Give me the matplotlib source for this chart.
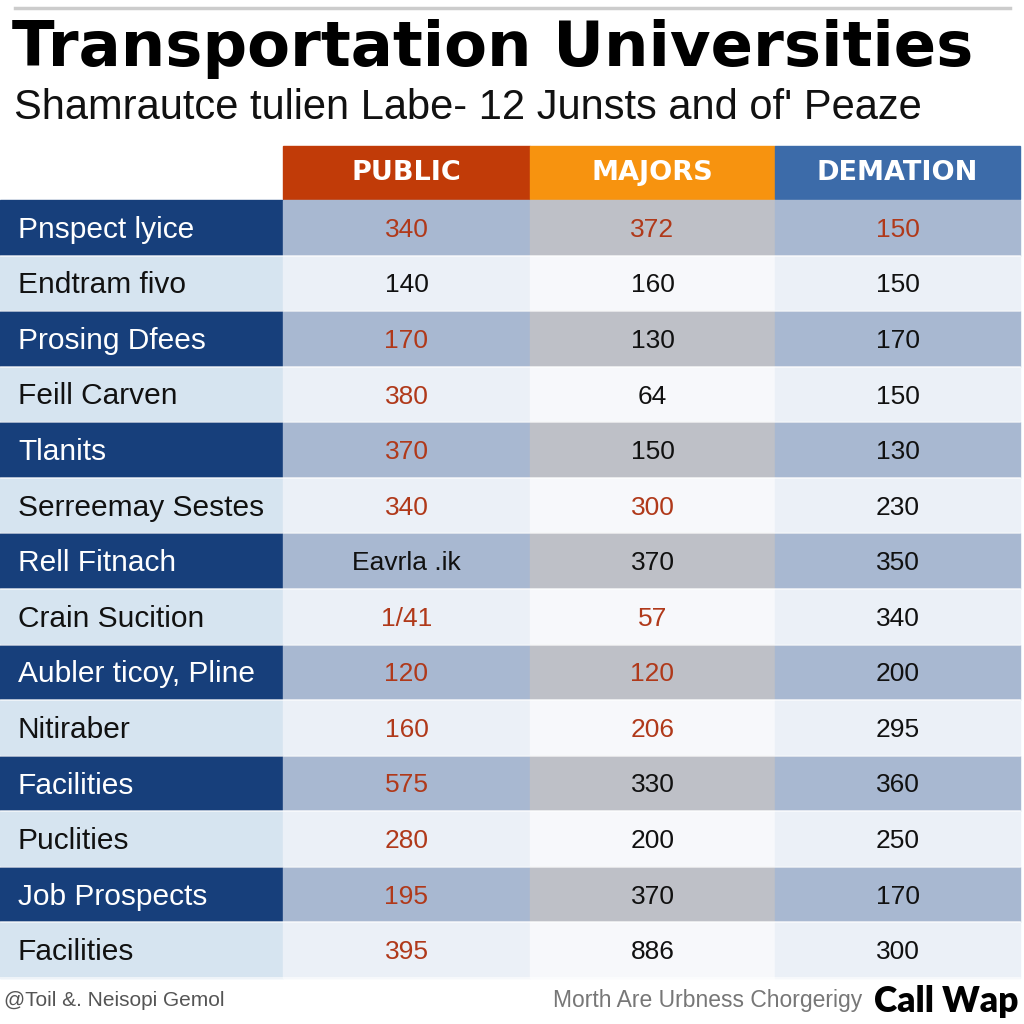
import matplotlib
matplotlib.use('Agg')
import matplotlib.pyplot as plt
from matplotlib.patches import Rectangle

plt.rcParams['font.family'] = ['Liberation Sans', 'DejaVu Sans']

# データ
title = 'Transportation Universities'
subtitle = "Shamrautce tulien Labe- 12 Junsts and of' Peaze"
columns = ['PUBLIC', 'MAJORS', 'DEMATION']
rows = ['Pnspect lyice', 'Endtram fivo', 'Prosing Dfees', 'Feill Carven', 'Tlanits',
        'Serreemay Sestes', 'Rell Fitnach', 'Crain Sucition', 'Aubler ticoy, Pline',
        'Nitiraber', 'Facilities', 'Puclities', 'Job Prospects', 'Facilities']
public = ['340', '140', '170', '380', '370', '340', 'Eavrla .ik', '1/41', '120',
          '160', '575', '280', '195', '395']
majors = ['372', '160', '130', '64', '150', '300', '370', '57', '120',
          '206', '330', '200', '370', '886']
demation = ['150', '150', '170', '150', '130', '230', '350', '340', '200',
            '295', '360', '250', '170', '300']
# 赤字のセル (行, 列)
red_cells = [(0, 0), (0, 1), (0, 2), (2, 0), (3, 0), (4, 0), (5, 0), (5, 1),
             (7, 0), (7, 1), (8, 0), (8, 1), (9, 0), (9, 1), (10, 0), (11, 0),
             (12, 0), (13, 0)]
footer_left = '@Toil &. Neisopi Gemol'
footer_mid = 'Morth Are Urbness Chorgerigy'
footer_right = 'Call Wap'

fig = plt.figure(figsize=(10.24, 10.24), dpi=100)
ax = fig.add_axes([0, 0, 1, 1])
ax.set_xlim(0, 1024)
ax.set_ylim(1024, 0)
ax.axis('off')

# タイトル
ax.plot([15, 1010], [8, 8], color='#CCCCCC', lw=2.5)
ax.text(12, 49, title, fontsize=45, fontweight='bold', family=['DejaVu Sans'],
        va='center', ha='left', color='black')
ax.text(14, 108, subtitle, fontsize=30, va='center', ha='left', color='#111111')

# ヘッダー
col_x = [283, 530, 775, 1020]
head_colors = ['#C13B08', '#F7930F', '#3C6BA9']
for j, name in enumerate(columns):
    ax.add_patch(Rectangle((col_x[j], 146), col_x[j + 1] - col_x[j], 53, color=head_colors[j]))
    ax.text((col_x[j] + col_x[j + 1]) / 2, 173, name, fontsize=19.5, fontweight='bold',
            family=['DejaVu Sans'], color='white', ha='center', va='center')

# 本体
top, bottom = 200, 978
h = (bottom - top) / len(rows)
dark_cells = ['#A8B8D1', '#BEC0C7', '#A8B8D1']
light_cells = ['#EBF0F7', '#F7F8FB', '#EBF0F7']
values = [public, majors, demation]
for i, label in enumerate(rows):
    y0 = top + i * h
    dark = i % 2 == 0
    ax.add_patch(Rectangle((0, y0), 283, h, color='#173F7B' if dark else '#D6E4F0'))
    ax.text(18, y0 + h / 2 + 2, label, fontsize=21.5, color='white' if dark else '#111111',
            ha='left', va='center')
    for j in range(3):
        ax.add_patch(Rectangle((col_x[j], y0), col_x[j + 1] - col_x[j], h,
                               color=(dark_cells if dark else light_cells)[j]))
        c = '#B0391A' if (i, j) in red_cells else '#111111'
        ax.text((col_x[j] + col_x[j + 1]) / 2, y0 + h / 2 + 2, values[j][i], fontsize=19,
                color=c, ha='center', va='center')
    ax.plot([0, 1020], [y0 + h, y0 + h], color='white', lw=1.2, alpha=0.7)

# フッター
ax.text(4, 1001, footer_left, fontsize=15, color='#555555', ha='left', va='center')
ax.text(862, 1001, footer_mid, fontsize=16.5, color='#777777', ha='right', va='center')
ax.text(1018, 1001, footer_right, fontsize=25.5, fontweight='heavy', color='black',
        family=['Lato', 'DejaVu Sans'], ha='right', va='center')

fig.savefig('out.png', dpi=100)
